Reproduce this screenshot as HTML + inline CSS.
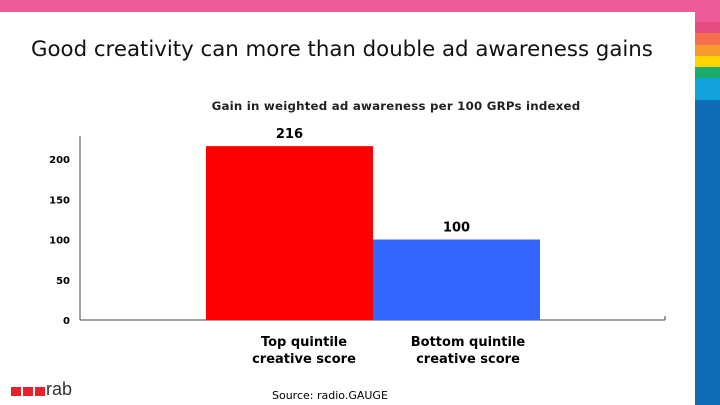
<!DOCTYPE html>
<html><head><meta charset="utf-8"><style>
body{margin:0;width:720px;height:405px;overflow:hidden;background:#fff;font-family:"DejaVu Sans","Liberation Sans",sans-serif;position:relative}
.a{position:absolute}
</style></head><body>
<div class="a" style="left:0;top:0;width:720px;height:12px;background:#ef5b98"></div>
<div class="a" style="left:695px;top:0;width:25px;height:405px">
<div style="height:22px;background:#ef5b98"></div><div style="height:11px;background:#e74c7f"></div><div style="height:12px;background:#f56f4e"></div><div style="height:11px;background:#f99a2f"></div><div style="height:11px;background:#ffd400"></div><div style="height:11px;background:#1cad6d"></div><div style="height:22px;background:#13a3dc"></div><div style="height:305px;background:#0f6cb6"></div></div>
<div class="a" style="left:31px;top:37px;font-size:21.3px;color:#111;white-space:nowrap">Good creativity can more than double ad awareness gains</div>
<div class="a" style="left:80px;top:99px;width:632px;text-align:center;font-size:11.8px;font-weight:bold;color:#222;letter-spacing:0.2px">Gain in weighted ad awareness per 100 GRPs indexed</div>
<svg class="a" style="left:0;top:0" width="720" height="405">
<g id="g" font-family="DejaVu Sans, sans-serif" font-weight="bold"></g></svg>
<div class="a" style="left:226px;top:334px;width:156px;text-align:center;font-size:13px;font-weight:bold;line-height:17px">Top quintile<br>creative score</div>
<div class="a" style="left:390px;top:334px;width:156px;text-align:center;font-size:13px;font-weight:bold;line-height:17px">Bottom quintile<br>creative score</div>
<div class="a" style="left:272px;top:389px;font-size:11px">Source: radio.GAUGE</div>
<div class="a" style="left:11px;top:380px;font-size:18px;color:#333;font-family:'Liberation Sans',sans-serif">
<span style="display:inline-block;width:10px;height:9px;background:#e8202a;margin-right:2px"></span><span style="display:inline-block;width:10px;height:9px;background:#e8202a;margin-right:2px"></span><span style="display:inline-block;width:10px;height:9px;background:#e8202a;margin-right:1px"></span><span style="position:relative;top:-1px">rab</span></div>
<script>
const categories=["Top quintile","Bottom quintile"];
const values=[216,100];
const colors=["#ff0000","#3366ff"];
const ticks=[0,50,100,150,200];
const g=document.getElementById('g');const ns='http://www.w3.org/2000/svg';
const y=v=>320-v*0.805;const x0=80,x1=665,bw=167,bx=[206,373];
function mk(t,a){const e=document.createElementNS(ns,t);for(const k in a)e.setAttribute(k,a[k]);g.appendChild(e);return e;}
let ax=mk('line',{x1:x0,y1:y(0),x2:x1,y2:y(0),stroke:'#444'});
let ay=mk('line',{x1:x0,y1:136,x2:x0,y2:y(0),stroke:'#444'});
mk('line',{x1:x1,y1:y(0),x2:x1,y2:y(0)-4,stroke:'#444'});
ticks.forEach(t=>{const e=mk('text',{x:70,y:y(t)+4,'text-anchor':'end','font-size':10});e.textContent=t;});
values.forEach((v,i)=>{const r=mk('rect',{x:bx[i],y:y(v),width:bw,height:y(0)-y(v),fill:colors[i]});
const t=mk('text',{x:bx[i]+bw/2,y:y(v)-8,'text-anchor':'middle','font-size':13});t.textContent=v;});
</script>
</body></html>
